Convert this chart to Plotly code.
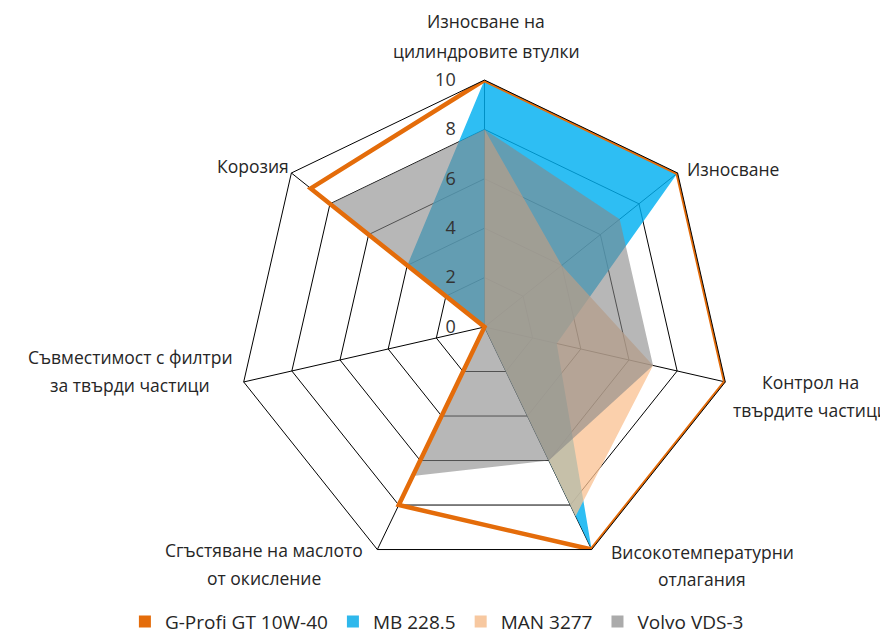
import plotly.graph_objects as go

categories = [
    "Износване на цилиндровите втулки",
    "Износване",
    "Контрол на твърдите частици",
    "Високотемпературни отлагания",
    "Сгъстяване на маслото от окисление",
    "Съвместимост с филтри за твърди частици",
    "Корозия",
]
# label lines as they are broken in the chart
label_lines = [
    ["Износване на", "цилиндровите втулки"],
    ["Износване"],
    ["Контрол на", "твърдите частици"],
    ["Високотемпературни", "отлагания"],
    ["Сгъстяване на маслото", "от окисление"],
    ["Съвместимост с филтри", "за твърди частици"],
    ["Корозия"],
]
series_names = ["G-Profi GT 10W-40", "MB 228.5", "MAN 3277", "Volvo VDS-3"]
g_profi = [10, 10, 10, 10, 8, 0, 9]
mb_2285 = [10, 10, 3, 10, 0, 0, 4]
man_3277 = [8, 4, 7, 8.5, 0, 0, 0]
volvo_vds3 = [8, 7, 7, 6, 6.7, 0, 8]
radial_ticks = [0, 2, 4, 6, 8, 10]

colors = {
    "G-Profi GT 10W-40": "#E46C0A",
    "MB 228.5": "#2FB8EC",
    "MAN 3277": "#F7C8A0",
    "Volvo VDS-3": "#ABABAB",
}


def closed(v):
    return list(v) + [v[0]]


cats_closed = closed(categories)

fig = go.Figure()

fig.add_trace(go.Scatterpolar(
    r=closed(mb_2285), theta=cats_closed, name=series_names[1],
    mode="lines", fill="toself", fillcolor="rgba(0,176,240,0.82)",
    line=dict(color="rgba(0,0,0,0)", width=0), showlegend=False,
))
fig.add_trace(go.Scatterpolar(
    r=closed(man_3277), theta=cats_closed, name=series_names[2],
    mode="lines", fill="toself", fillcolor="rgba(250,192,144,0.75)",
    line=dict(color="rgba(0,0,0,0)", width=0), showlegend=False,
))
fig.add_trace(go.Scatterpolar(
    r=closed(volvo_vds3), theta=cats_closed, name=series_names[3],
    mode="lines", fill="toself", fillcolor="rgba(135,135,135,0.6)",
    line=dict(color="rgba(0,0,0,0)", width=0), showlegend=False,
))
fig.add_trace(go.Scatterpolar(
    r=closed(g_profi), theta=cats_closed, name=series_names[0],
    mode="lines", line=dict(color=colors[series_names[0]], width=4.5),
    showlegend=False,
))

# legend entries (square swatches)
for nm in series_names:
    fig.add_trace(go.Scatterpolar(
        r=[None], theta=[None], name=nm, mode="markers",
        marker=dict(symbol="square", size=13, color=colors[nm]),
        showlegend=True,
    ))

W, H = 888, 644
cx, cy, R = 476.5, 319, 247

# category labels placed round the chart (pixel centres of each line)
label_pos = [
    (478, [13, 43], "center"),
    (677, [161], "left"),
    (802, [374, 402], "center"),
    (694, [544, 571], "center"),
    (256, [542, 570], "center"),
    (122, [349, 377], "center"),
    (283, [158], "right"),
]
annotations = []
for lines, (x, ys, al) in zip(label_lines, label_pos):
    for line, y in zip(lines, ys):
        annotations.append(dict(
            text=line, x=x / W, y=1 - y / H, xref="paper", yref="paper",
            xanchor=al, yanchor="middle", showarrow=False,
            font=dict(size=17.5, color="#262626"),
        ))

fig.update_layout(
    width=W, height=H,
    margin=dict(l=0, r=0, t=0, b=0),
    paper_bgcolor="white",
    font=dict(family="Open Sans", size=16, color="#262626"),
    annotations=annotations,
    polar=dict(
        domain=dict(x=[(cx - R) / W, (cx + R) / W], y=[(H - cy - R) / H, (H - cy + R) / H]),
        bgcolor="white",
        gridshape="linear",
        angularaxis=dict(
            rotation=90, direction="clockwise",
            linecolor="black", linewidth=1,
            gridcolor="black", gridwidth=1,
            showline=True, ticks="", showticklabels=False,
        ),
        radialaxis=dict(
            range=[0, 10], tickvals=radial_ticks, angle=90, tickangle=90,
            side="counterclockwise",
            showline=False, linecolor="black",
            gridcolor="black", gridwidth=1,
            ticks="outside", ticklen=22, tickcolor="rgba(0,0,0,0)",
            tickfont=dict(size=18, color="#333333"),
        ),
    ),
    showlegend=True,
    legend=dict(
        orientation="h", x=0.483, xanchor="center", y=0.047, yanchor="middle",
        font=dict(size=19, color="#262626"),
        itemwidth=30, traceorder="normal", itemsizing="constant",
    ),
)

fig.write_html("out.html")
